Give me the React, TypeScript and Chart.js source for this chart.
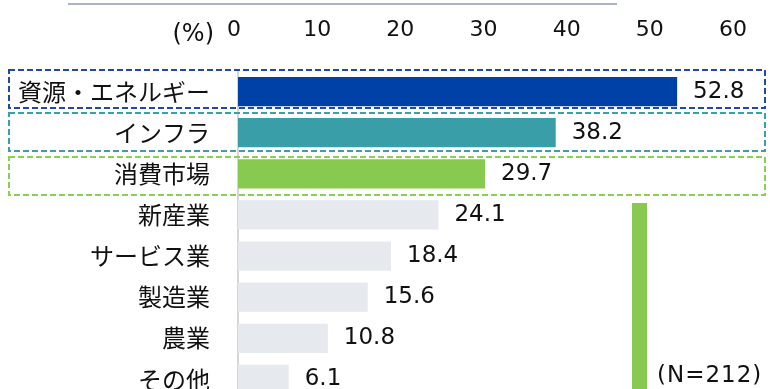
import React, { useEffect, useRef } from 'react';
import { Chart, registerables } from 'chart.js';

Chart.register(...registerables);

const categories = ['資源・エネルギー', 'インフラ', '消費市場', '新産業', 'サービス業', '製造業', '農業', 'その他'];
const values = [52.8, 38.2, 29.7, 24.1, 18.4, 15.6, 10.8, 6.1];
const barColors = ['#0041a8', '#3a9ea9', '#88c94f', '#e6e9ed', '#e6e9ed', '#e6e9ed', '#e6e9ed', '#e6e9ed'];
const highlightColors = ['#1f4ba8', '#3aa0aa', '#8ccf55'];
const xMin = 0;
const xMax = 60;
const xStep = 10;
const unitLabel = '(%)';
const sampleNote = '(N=212)';

const NUM_FONT = '"DejaVu Sans", Verdana, sans-serif';
const JP_FONT = '"Noto Sans CJK JP", "Noto Sans", sans-serif';

const decorPlugin = {
  id: 'decor',
  afterDatasetsDraw(chart: any) {
    const { ctx } = chart;
    const yScale = chart.scales.y;
    const meta = chart.getDatasetMeta(0);
    ctx.save();

    // top decorative rule
    ctx.fillStyle = '#abb3c5';
    ctx.fillRect(68, 3, 549, 2);

    // unit label
    ctx.fillStyle = '#111111';
    ctx.font = `24px ${NUM_FONT}`;
    ctx.textAlign = 'right';
    ctx.textBaseline = 'alphabetic';
    ctx.fillText(unitLabel, 214, 41);

    // value labels
    ctx.font = `23px ${NUM_FONT}`;
    ctx.textAlign = 'left';
    ctx.textBaseline = 'middle';
    meta.data.forEach((bar: any, i: number) => {
      ctx.fillText(values[i].toFixed(1), bar.x + 16, bar.y);
    });

    // dashed highlight boxes
    ctx.lineWidth = 2;
    ctx.setLineDash([6, 3]);
    highlightColors.forEach((c, i) => {
      const cy = yScale.getPixelForValue(i);
      const top = Math.round(cy - 22 + 2.5 * i);
      ctx.strokeStyle = c;
      ctx.strokeRect(9, top, 756, 38);
    });
    ctx.setLineDash([]);

    // decorative green bar
    ctx.fillStyle = '#88c94f';
    ctx.fillRect(632, 203, 15, 200);

    // sample note
    ctx.fillStyle = '#111111';
    ctx.font = `23px ${NUM_FONT}`;
    try {
      (ctx as any).letterSpacing = '1px';
    } catch (e) {}
    ctx.textAlign = 'left';
    ctx.textBaseline = 'alphabetic';
    ctx.fillText(sampleNote, 657, 382);

    ctx.restore();
  },
};

export default function App() {
  const ref = useRef<HTMLCanvasElement | null>(null);

  useEffect(() => {
    if (!ref.current) return;
    const chart = new Chart(ref.current, {
      type: 'bar',
      data: {
        labels: categories,
        datasets: [
          {
            data: values,
            backgroundColor: barColors,
            borderWidth: 0,
            barPercentage: 0.71,
            categoryPercentage: 1,
          },
        ],
      },
      options: {
        indexAxis: 'y',
        animation: false,
        responsive: false,
        maintainAspectRatio: false,
        layout: { padding: { left: 0, right: 33, top: 0, bottom: 0 } },
        plugins: {
          legend: { display: false },
          tooltip: { enabled: false },
        },
        scales: {
          x: {
            position: 'top',
            min: xMin,
            max: xMax,
            ticks: {
              stepSize: xStep,
              font: { family: NUM_FONT, size: 22 },
              color: '#111111',
              padding: 28,
              labelOffset: -4,
              maxRotation: 0,
            },
            grid: { display: false, drawTicks: false },
            border: { display: false },
            afterFit: (s: any) => {
              s.height = 71;
              s.paddingLeft = 0;
              s.paddingRight = 0;
            },
          },
          y: {
            ticks: {
              font: { family: JP_FONT, size: 24 },
              color: '#111111',
              padding: 28,
            },
            grid: { color: 'transparent', drawTicks: false },
            border: { display: true, color: '#d6d6d6', width: 2 },
            afterFit: (s: any) => {
              s.width = 238;
              s.paddingTop = 0;
              s.paddingBottom = 0;
            },
          },
        },
      } as any,
      plugins: [decorPlugin],
    });
    return () => chart.destroy();
  }, []);

  return (
    <div
      style={{
        position: 'fixed',
        left: 0,
        top: 0,
        width: 770,
        height: 389,
        overflow: 'hidden',
        background: '#ffffff',
      }}
    >
      <canvas ref={ref} width={770} height={400} style={{ display: 'block', width: 770, height: 400 }} />
    </div>
  );
}
